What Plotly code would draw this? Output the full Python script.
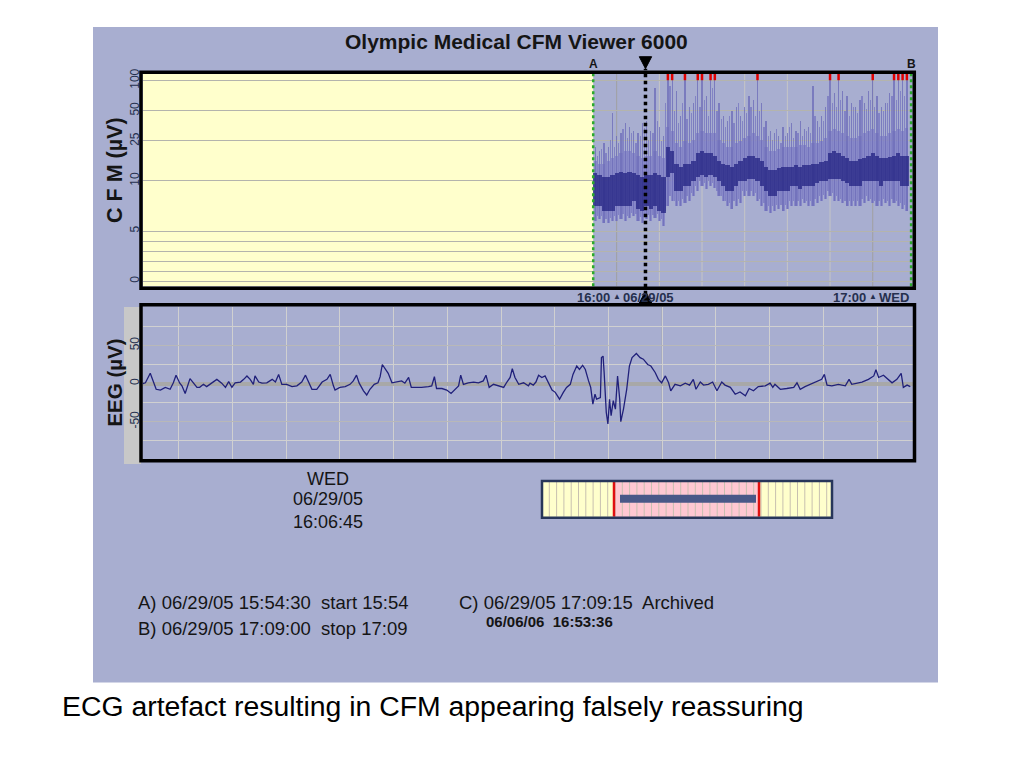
import math
import plotly.graph_objects as go

# ---------------- DATA ----------------
# CFM trace, 1-minute bins; minutes relative to 16:00 (bin centre)
cfm_minutes = list(range(-5, 69))
cfm_min = [6.0, 6.2, 5.8, 5.8, 6.0, 6.0, 6.2, 6.0, 6.3, 6.5, 6.0, 5.8, 6.2, 6.0, 6.3, 6.0, 5.5,
           7.5, 8.0, 7.5, 7.5, 7.8, 8.0, 8.5, 9.0, 9.5, 9.2, 9.5, 9.3, 8.5, 8.0, 7.5, 7.2, 7.5,
           7.8, 8.5, 8.5, 8.5, 8.0, 7.5, 7.0, 6.8, 7.0, 7.2, 7.0, 7.2, 7.5, 7.5, 7.5, 7.8, 7.5,
           7.5, 7.8, 8.0, 8.2, 8.5, 8.0, 8.0, 7.8, 7.5, 7.5, 7.5, 7.5, 7.8, 8.0, 7.8, 7.5, 7.5,
           7.8, 7.5, 7.8, 7.5, 7.2, 7.0]
cfm_core_lo = [7.5, 7.5, 7.0, 7.0, 7.0, 7.5, 7.5, 7.5, 7.5, 8.0, 7.2, 7.0, 7.5, 7.2, 7.5, 7.0, 6.8,
               11.0, 12.0, 9.0, 9.0, 9.5, 9.5, 10.0, 11.0, 11.5, 11.0, 11.5, 11.0, 10.0, 9.5, 9.0,
               9.0, 9.5, 10.0, 10.0, 10.5, 10.5, 10.0, 9.5, 9.0, 8.5, 8.5, 9.0, 9.0, 9.0, 9.5, 9.5,
               9.2, 9.5, 9.5, 9.5, 9.8, 10.0, 10.0, 10.5, 10.5, 10.5, 10.0, 9.8, 9.5, 9.5, 9.5,
               10.0, 10.0, 10.0, 10.0, 9.5, 10.0, 10.0, 10.0, 10.0, 9.5, 9.5]
cfm_core_hi = [12.0, 11.5, 11.0, 11.0, 11.5, 12.0, 12.5, 12.0, 12.5, 12.0, 11.5, 11.0, 11.5, 11.5,
               12.0, 11.5, 11.0, 22.0, 20.0, 15.0, 14.0, 15.0, 15.0, 16.0, 19.0, 20.0, 19.0, 19.0,
               18.0, 16.0, 15.0, 14.5, 14.0, 15.0, 16.0, 17.0, 18.0, 18.0, 17.0, 16.0, 14.0, 13.0,
               13.0, 13.5, 14.0, 14.0, 14.0, 14.5, 14.0, 14.5, 14.5, 15.0, 15.0, 15.5, 16.0, 19.0,
               20.0, 19.0, 18.0, 17.0, 16.0, 16.0, 16.5, 17.0, 18.0, 19.0, 18.0, 17.0, 17.0, 17.5,
               18.0, 19.0, 18.0, 18.0]
cfm_upper = [16, 15, 15, 16, 17, 18, 19, 20, 20, 19, 18, 17, 18, 18, 20, 18, 17,
             35, 32, 24, 22, 25, 24, 26, 30, 32, 30, 30, 30, 26, 24, 22, 22, 24, 25, 27, 28, 30,
             28, 26, 22, 20, 20, 21, 22, 22, 22, 22, 23, 23, 22, 24, 24, 25, 27, 32, 33, 32, 30,
             28, 27, 27, 28, 30, 32, 33, 30, 28, 28, 30, 32, 33, 32, 34]
cfm_peak = [22, 20, 24, 22, 48, 28, 30, 38, 35, 32, 30, 38, 40, 32, 85, 35, 28,
            120, 120, 80, 45, 120, 55, 60, 120, 120, 70, 120, 120, 60, 45, 40, 50, 55, 45, 55,
            70, 65, 120, 60, 40, 32, 30, 28, 35, 30, 38, 32, 40, 33, 35, 90, 40, 45, 55, 120,
            75, 120, 80, 70, 60, 55, 65, 60, 80, 120, 70, 55, 60, 75, 120, 120, 120, 120]
# extra spikes between the 1-minute bins (half-minute offsets, -4.5 ... 67.5)
cfm_half_minutes = [m + 0.5 for m in range(-5, 68)]
cfm_half_peak = [18, 21, 19, 26, 22, 24, 33, 27, 30, 24, 28, 34, 26, 30, 40, 25, 60,
                 90, 50, 38, 60, 42, 48, 70, 55, 65, 45, 85, 50, 42, 35, 45, 38, 60, 40, 48,
                 55, 45, 50, 35, 28, 26, 33, 24, 28, 35, 27, 30, 28, 32, 30, 45, 35, 40, 70,
                 60, 55, 65, 50, 45, 55, 48, 70, 52, 65, 55, 48, 50, 60, 70, 65, 80, 70]
cfm_half_base = [6.5, 6.5, 6.2, 6.3, 6.5, 6.6, 6.7, 6.5, 6.8, 6.7, 6.4, 6.5, 6.6, 6.6, 6.7, 6.2, 7.0,
                 8.5, 8.0, 8.0, 8.2, 8.5, 8.8, 9.5, 10.0, 9.8, 10.0, 9.8, 9.0, 8.5, 8.0, 7.8, 8.0,
                 8.2, 9.0, 9.0, 9.0, 8.8, 8.2, 7.8, 7.5, 7.5, 7.6, 7.6, 7.6, 8.0, 8.0, 8.0, 8.2,
                 8.0, 8.0, 8.2, 8.5, 8.6, 9.0, 8.8, 8.5, 8.2, 8.0, 8.0, 8.0, 8.0, 8.2, 8.5, 8.2,
                 8.0, 8.0, 8.2, 8.0, 8.2, 8.0, 7.8, 7.6]

cfm_ytick_values = [0, 1, 2, 3, 4, 5, 10, 25, 50, 100]
cfm_ytick_text = ["0", "", "", "", "", "5", "10", "25", "50", "100"]

mark_a_min = -5.5      # 15:54:30
mark_b_min = 69.0      # 17:09:00
cursor_min = 6.75      # 16:06:45
grid_minutes = [0, 10, 20, 30, 40, 50, 60]
major_ticks = [(0, "16:00", "06/29/05"), (60, "17:00", "WED")]

# EEG trace (seconds, µV)
eeg_t = [0.28, 0.38, 0.47, 0.53, 0.58, 0.66, 0.75, 0.84, 0.90, 0.95, 1.02, 1.06, 1.12, 1.21, 1.28,
         1.34, 1.39, 1.46, 1.52, 1.62, 1.71, 1.80, 1.87, 1.93, 1.99, 2.05, 2.15, 2.21, 2.27, 2.33,
         2.39, 2.42, 2.49, 2.55, 2.64, 2.74, 2.80, 2.86, 2.92, 3.01, 3.11, 3.20, 3.29, 3.36, 3.42,
         3.48, 3.57, 3.67, 3.76, 3.82, 3.88,
         3.91, 4.00, 4.10, 4.19, 4.25, 4.31, 4.36, 4.44, 4.50, 4.56, 4.64, 4.71, 4.75, 4.79, 4.84,
         4.90, 4.97, 5.06, 5.15, 5.21, 5.28, 5.33, 5.40, 5.52, 5.65, 5.71, 5.76, 5.80, 5.90, 5.99,
         6.07, 6.15, 6.21, 6.25, 6.30, 6.39, 6.49, 6.58, 6.67, 6.72, 6.78, 6.86, 6.95, 7.05, 7.11,
         7.17, 7.21, 7.26, 7.33, 7.42, 7.51,
         7.54, 7.60, 7.65, 7.70, 7.76, 7.82, 7.88, 7.95, 8.01, 8.09, 8.16, 8.22, 8.29, 8.34, 8.41,
         8.46, 8.52, 8.57, 8.63, 8.67, 8.71, 8.75, 8.78, 8.85, 8.87, 8.90, 8.92, 8.96, 8.99, 9.02,
         9.05, 9.09, 9.13, 9.17, 9.21, 9.23, 9.28, 9.34, 9.39, 9.44, 9.52, 9.59, 9.65, 9.73, 9.79,
         9.87, 9.93, 9.99, 10.06, 10.12, 10.16, 10.24, 10.34, 10.43, 10.51, 10.58, 10.63, 10.71,
         10.77, 10.86, 10.94, 11.02, 11.11, 11.17,
         11.27, 11.36, 11.45, 11.55, 11.62, 11.70, 11.79, 11.92, 12.01, 12.06, 12.10, 12.20, 12.32,
         12.45, 12.51, 12.57, 12.66, 12.76, 12.88, 12.97, 13.02, 13.07, 13.16, 13.28, 13.41, 13.48,
         13.53, 13.63, 13.72, 13.84, 13.94, 13.98, 14.03, 14.12, 14.20, 14.28, 14.37, 14.45, 14.49,
         14.56, 14.62]
eeg_uv = [-1, 1, 13.5, 1, -7.5, -8.5, -5, -7.5, 1, 11, 0.5, -3, -13, 6.5, 1,
          -5, -5, -1, -4, 0.5, 5.5, 0.5, -5, 2.5, -5, 1, 2, 5.5, 10, 5.5,
          -1, 10, 2, 0.5, 1, 5.5, 2, 12, -1, -1, -4, -3, 2, 11, 1,
          -7.5, -7.5, 2, 5.5, 12, -3,
          -8.5, -5, -4, -1, 3.5, 11, 0.5, -9.5, -15, -7.5, -1, 1, 9, 25, 19.5,
          13.5, 1, 2, 3.5, 0.5, 8, -5, -5, -5, -4, -3, 9, -6.5, -6.5, -8.5,
          -13, -7.5, -3, 11, -1, 1, 2, 1, 3.5, 11, -5, -1, -3, -5, 2,
          8, 19.5, 8, -1, 1, -3,
          0.5, -2, 2, 11, 8, 10, 1, -8.5, -11.5, -20.5, -11.5, -5, -1, 12, 23,
          18.5, 24, 18.5, 3.5, -5, -27, -14, -20.5, -18.5, 34, 36, 14.5, -38, -53, -20.5,
          -42, -22.5, -33.5, 10, -20.5, -50, -33.5, -7.5, 23, 34, 39.5, 34, 32, 25, 23,
          14.5, 5.5, 1, 10, 1, -9.5, -1, -3, 0.5, -2, 5.5, -7.5, 2,
          -2, -1, 2, -9.5, 2, -2,
          -5, -14, -11, -16, -6.5, -9.5, -4, -3, 0.5, -5, -1, -7.5, -6.5,
          -5, 1, -7.5, -4, -1, 2, 5.5, 12, -2, -3, -1, -3, 5.5,
          -1, 1, 2, 5.5, 10, 18, 8, 11, 5.5, 1, 5.5, 13.5, -5,
          -2, -4]
eeg_ytick_major = [-50, 0, 50]
eeg_ytick_minor = [-75, -25, 25, 75]

# ---------------- HELPERS ----------------
# the page body has an 8px margin: the figure is placed at (8, 8) in the window
OFF = 8
W, H = 1016, 760


def px(x):
    return (x - OFF) / W


def py(y):
    return 1 - (y - OFF) / H


def cfm_scale(v):
    """CFM semi-log scale: linear 0-10 µV, logarithmic above 10 µV."""
    return v if v <= 10 else 10 + 10 * math.log10(v / 10)


FONT = "Liberation Sans, Arial, sans-serif"
TXT = "#151515"
TICK = "#26304E"

fig = go.Figure()

# ---------------- CFM traces ----------------
lo_t = [cfm_scale(v) for v in cfm_min]
fig.add_trace(go.Bar(x=cfm_minutes, base=lo_t,
                     y=[cfm_scale(u) - l for u, l in zip(cfm_upper, lo_t)],
                     width=0.75, marker=dict(color="rgba(130,130,200,0.85)", line=dict(width=0)),
                     xaxis="x", yaxis="y", hoverinfo="skip"))
fig.add_trace(go.Bar(x=cfm_minutes, base=lo_t,
                     y=[cfm_scale(p) - l for p, l in zip(cfm_peak, lo_t)],
                     width=0.3, marker=dict(color="rgba(110,110,185,0.8)", line=dict(width=0)),
                     xaxis="x", yaxis="y", hoverinfo="skip"))
hb_t = [cfm_scale(v) for v in cfm_half_base]
fig.add_trace(go.Bar(x=cfm_half_minutes, base=hb_t,
                     y=[cfm_scale(p) - l for p, l in zip(cfm_half_peak, hb_t)],
                     width=0.3, marker=dict(color="rgba(120,120,192,0.8)", line=dict(width=0)),
                     xaxis="x", yaxis="y", hoverinfo="skip"))
clo_t = [cfm_scale(v) for v in cfm_core_lo]
fig.add_trace(go.Bar(x=cfm_minutes, base=clo_t,
                     y=[cfm_scale(h) - l for h, l in zip(cfm_core_hi, clo_t)],
                     width=1.0, marker=dict(color="rgba(30,30,128,0.72)", line=dict(width=0)),
                     xaxis="x", yaxis="y", hoverinfo="skip"))
# overflow (>100 µV) markers at the top
over_x = [m for m, p in zip(cfm_minutes, cfm_peak) if p > 100]
fig.add_trace(go.Scatter(x=over_x, y=[20.45] * len(over_x), mode="markers",
                         marker=dict(symbol="line-ns", size=6, line=dict(color="#E00000", width=2.5)),
                         xaxis="x", yaxis="y", hoverinfo="skip", cliponaxis=False))

# ---------------- EEG trace ----------------
fig.add_trace(go.Scatter(x=eeg_t, y=eeg_uv, mode="lines",
                         line=dict(color="#20207A", width=1.3),
                         xaxis="x2", yaxis="y2", hoverinfo="skip"))

# ---------------- SHAPES ----------------
shapes = []
shapes.append(dict(type="rect", xref="paper", yref="paper", x0=px(93), x1=px(938), y0=py(682), y1=py(22),
                   fillcolor="#A8AED0", line=dict(width=0), layer="below"))
shapes.append(dict(type="rect", xref="x", yref="y domain", x0=-120, x1=mark_a_min, y0=0, y1=1,
                   fillcolor="#FFFFCC", line=dict(width=0), layer="below"))
for g in grid_minutes:
    shapes.append(dict(type="line", xref="x", yref="y domain", x0=g, x1=g, y0=0, y1=1,
                       line=dict(color="#A0A0A0" if g % 60 == 0 else "#C6C6C6", width=1), layer="below"))
shapes.append(dict(type="rect", xref="paper", yref="paper", x0=px(124), x1=px(141), y0=py(462), y1=py(304),
                   fillcolor="#C8C8C8", line=dict(width=0), layer="below"))
for g in [5, 10]:
    shapes.append(dict(type="line", xref="x2", yref="y2 domain", x0=g, x1=g, y0=0, y1=1,
                       line=dict(color="#A4A4A4", width=1), layer="below"))
for m in [mark_a_min, mark_b_min]:
    shapes.append(dict(type="line", xref="x", yref="y domain", x0=m, x1=m, y0=0, y1=1,
                       line=dict(color="#2BAA2B", width=2.5, dash="dot")))
# cursor line and its two triangles
shapes.append(dict(type="line", xref="x", yref="paper", x0=cursor_min, x1=cursor_min, y0=py(291), y1=py(64),
                   line=dict(color="black", width=3.5, dash="dot")))
d = 1.45
shapes.append(dict(type="path", xref="x", yref="paper",
                   path="M %f,%f L %f,%f L %f,%f Z" % (cursor_min - d, py(52), cursor_min + d, py(52),
                                                       cursor_min, py(64)),
                   fillcolor="black", line=dict(color="black", width=1)))
shapes.append(dict(type="path", xref="x", yref="paper",
                   path="M %f,%f L %f,%f L %f,%f Z" % (cursor_min - d, py(300), cursor_min + d, py(300),
                                                       cursor_min, py(288)),
                   fillcolor="black", line=dict(color="black", width=1)))
shapes.append(dict(type="rect", xref="paper", yref="paper", x0=px(141), x1=px(914.3), y0=py(285), y1=py(67.7),
                   line=dict(color="black", width=3.5)))
shapes.append(dict(type="rect", xref="paper", yref="paper", x0=px(141), x1=px(914.5), y0=py(458.7), y1=py(301.7),
                   line=dict(color="black", width=3.5)))
# navigation bar
shapes.append(dict(type="rect", xref="paper", yref="paper", x0=px(542), x1=px(832), y0=py(516), y1=py(479),
                   fillcolor="#FFFFCC", line=dict(width=0)))
shapes.append(dict(type="rect", xref="paper", yref="paper", x0=px(614), x1=px(759), y0=py(516), y1=py(479),
                   fillcolor="#FFC8D2", line=dict(width=0)))
for k in range(1, 40):
    xx = 542 + k * 7.3
    shapes.append(dict(type="line", xref="paper", yref="paper", x0=px(xx), x1=px(xx), y0=py(515), y1=py(480),
                       line=dict(color="#C8C0B0", width=1)))
for xx in [614, 759]:
    shapes.append(dict(type="line", xref="paper", yref="paper", x0=px(xx), x1=px(xx), y0=py(515), y1=py(480),
                       line=dict(color="#E01010", width=2.5)))
shapes.append(dict(type="rect", xref="paper", yref="paper", x0=px(620), x1=px(756), y0=py(501), y1=py(493),
                   fillcolor="#4A5888", line=dict(width=0)))
shapes.append(dict(type="rect", xref="paper", yref="paper", x0=px(542), x1=px(832), y0=py(516), y1=py(479),
                   line=dict(color="#27365A", width=2.5)))

# ---------------- ANNOTATIONS ----------------
ann = []


def text(x, y, s, size, bold=False, xanchor="center", color=TXT, angle=0, xref="paper"):
    ann.append(dict(x=x, y=y, xref=xref, yref="paper", text=("<b>%s</b>" % s) if bold else s,
                    showarrow=False, xanchor=xanchor, yanchor="middle", textangle=angle,
                    font=dict(family=FONT, size=size, color=color)))


text(px(516), py(37), "Olympic Medical CFM Viewer 6000", 21, bold=True)
text(mark_a_min, py(59), "A", 12, bold=True, xref="x")
text(mark_b_min, py(59), "B", 12, bold=True, xref="x")
text(px(115), py(166), "C F M (µV)", 21.5, bold=True, angle=-90)
text(px(115), py(380), "EEG (µV)", 20.5, bold=True, angle=-90)
for m, lab, sub in major_ticks:
    text(m - 1.0, py(294), lab, 13, bold=True, xanchor="right", color=TICK, xref="x")
    text(m, py(293), "▲", 8, color=TICK, xref="x")
    text(m + 1.0, py(294), sub, 13, bold=True, xanchor="left", color=TICK, xref="x")
text(px(328), py(477), "WED", 18)
text(px(328), py(497), "06/29/05", 18)
text(px(328), py(520), "16:06:45", 18)
text(px(136), py(601), "A) 06/29/05 15:54:30  start 15:54", 18.5, xanchor="left")
text(px(136), py(628), "B) 06/29/05 17:09:00  stop 17:09", 18.5, xanchor="left")
text(px(457), py(601), "C) 06/29/05 17:09:15  Archived", 18.5, xanchor="left")
text(px(484), py(621), "06/06/06  16:53:36", 15, bold=True, xanchor="left")
text(px(60), py(706), "ECG artefact resulting in CFM appearing falsely reassuring", 28.4, xanchor="left",
     color="#000000")

# ---------------- LAYOUT ----------------
fig.update_layout(
    width=W, height=H, margin=dict(l=0, r=0, t=0, b=0),
    paper_bgcolor="white", plot_bgcolor="#E4E4E4",
    showlegend=False, barmode="overlay", bargap=0,
    shapes=shapes, annotations=ann,
    xaxis=dict(domain=[px(143), px(913)], range=[-111.0, 69.44], showgrid=False, zeroline=False,
               showticklabels=False, ticks="", fixedrange=True),
    yaxis=dict(domain=[py(283), py(69)], range=[-0.5, 20.69], anchor="x",
               tickmode="array", tickvals=[cfm_scale(v) for v in cfm_ytick_values], ticktext=cfm_ytick_text,
               tickangle=-90, tickfont=dict(family=FONT, size=12, color=TICK),
               showgrid=True, gridcolor="#B4B4AC", gridwidth=1, zeroline=False, ticks="",
               ticklabelstandoff=1),
    xaxis2=dict(domain=[px(143), px(913)], range=[0.335, 14.67], anchor="y2",
                tickmode="array", tickvals=[5, 10], showticklabels=False, ticks="",
                showgrid=False, zeroline=False,
                minor=dict(dtick=1, tick0=0, showgrid=True, gridcolor="#D0D0D0", ticks="")),
    yaxis2=dict(domain=[py(457), py(303.5)], range=[-99, 101], anchor="x2",
                tickmode="array", tickvals=eeg_ytick_major, ticktext=[str(v) for v in eeg_ytick_major],
                tickangle=-90, tickfont=dict(family=FONT, size=12, color=TICK),
                showgrid=True, gridcolor="#B8B8B8", zeroline=True, zerolinecolor="#A8A8A8",
                zerolinewidth=4, ticks="", ticklabelstandoff=1,
                minor=dict(tickmode="array", tickvals=eeg_ytick_minor, showgrid=True,
                           gridcolor="#D0D0D0", ticks="")),
)

fig.write_html("out.html")
